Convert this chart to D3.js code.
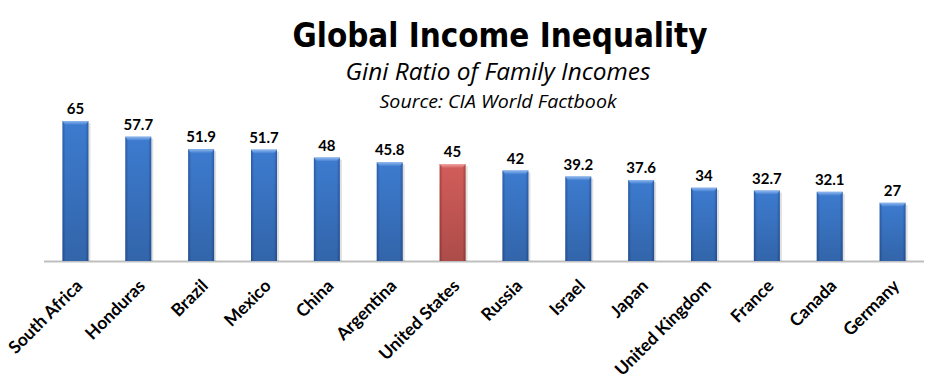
<!DOCTYPE html>
<html>
<head>
<meta charset="utf-8">
<script src="https://cdn.jsdelivr.net/npm/d3@7"></script>
<style>
  body { margin: 0; background: #fff; }
  svg { display: block; }
</style>
</head>
<body>
<svg id="svg" width="938" height="386"></svg>
<script>
// 数据
const countries = ["South Africa", "Honduras", "Brazil", "Mexico", "China", "Argentina",
  "United States", "Russia", "Israel", "Japan", "United Kingdom", "France", "Canada", "Germany"];
const gini = [65, 57.7, 51.9, 51.7, 48, 45.8, 45, 42, 39.2, 37.6, 34, 32.7, 32.1, 27];
const highlight = "United States";

const left = 44, right = 924, baseY = 261;

const svg = d3.select("#svg");
const defs = svg.append("defs");

// 渐变：蓝色 / 红色，带斜面效果
function makeGrad(id, dark, mid, light) {
  const gh = defs.append("linearGradient").attr("id", id + "-h")
    .attr("x1", 0).attr("x2", 1).attr("y1", 0).attr("y2", 0);
  gh.append("stop").attr("offset", 0).attr("stop-color", dark);
  gh.append("stop").attr("offset", 0.12).attr("stop-color", mid);
  gh.append("stop").attr("offset", 0.88).attr("stop-color", mid);
  gh.append("stop").attr("offset", 1).attr("stop-color", dark);
  const gv = defs.append("linearGradient").attr("id", id + "-v")
    .attr("x1", 0).attr("x2", 0).attr("y1", 0).attr("y2", 1);
  gv.append("stop").attr("offset", 0).attr("stop-color", "#000").attr("stop-opacity", 0);
  gv.append("stop").attr("offset", 1).attr("stop-color", "#000").attr("stop-opacity", 0.18);
  const gt = defs.append("linearGradient").attr("id", id + "-t")
    .attr("x1", 0).attr("x2", 0).attr("y1", 0).attr("y2", 1);
  gt.append("stop").attr("offset", 0).attr("stop-color", light);
  gt.append("stop").attr("offset", 1).attr("stop-color", mid);
}
makeGrad("blue", "#2a5ca8", "#3d7bcf", "#8fb8ee");
makeGrad("red", "#a8403d", "#d25d5a", "#f0a5a2");

const x = d3.scaleBand().domain(countries).range([left, right]).paddingInner(0.586).paddingOuter(0.293);
const y = d3.scaleLinear().domain([0, 70]).range([baseY, baseY - 70 * 2.154]);

// 基线
svg.append("line")
  .attr("x1", left).attr("x2", right)
  .attr("y1", baseY + 0.5).attr("y2", baseY + 0.5)
  .attr("stroke", "#bfbfbf").attr("stroke-width", 2);

const bars = svg.append("g");
countries.forEach((c, i) => {
  const v = gini[i];
  const id = c === highlight ? "red" : "blue";
  const bx = x(c), bw = x.bandwidth(), by = y(v), bh = baseY - y(v);
  // 阴影
  bars.append("rect")
    .attr("x", bx + 2).attr("y", by + 2).attr("width", bw).attr("height", bh - 2)
    .attr("fill", "#000").attr("opacity", 0.12);
  bars.append("rect")
    .attr("x", bx).attr("y", by).attr("width", bw).attr("height", bh)
    .attr("fill", `url(#${id}-h)`);
  bars.append("rect")
    .attr("x", bx).attr("y", by).attr("width", bw).attr("height", bh)
    .attr("fill", `url(#${id}-v)`);
  // 顶部斜面
  bars.append("path")
    .attr("d", `M${bx},${by} L${bx + bw},${by} L${bx + bw - 3},${by + 4} L${bx + 3},${by + 4} Z`)
    .attr("fill", `url(#${id}-t)`);
  // 数值
  svg.append("text")
    .attr("x", bx + bw / 2).attr("y", by - 7)
    .attr("text-anchor", "middle")
    .style("font-family", "Lato, 'Open Sans', sans-serif")
    .style("font-weight", "bold").style("font-size", "15px")
    .text(v);
});

// 类别标签
countries.forEach(c => {
  const cx = x(c) + x.bandwidth() / 2;
  svg.append("text")
    .attr("transform", `translate(${cx + 8},${baseY + 26}) rotate(-45)`)
    .attr("text-anchor", "end")
    .style("font-family", "Lato, 'Open Sans', sans-serif")
    .style("font-weight", "bold").style("font-size", "17.5px")
    .text(c);
});

// 标题
svg.append("text")
  .attr("x", 500).attr("y", 47)
  .attr("text-anchor", "middle")
  .attr("textLength", 415).attr("lengthAdjust", "spacingAndGlyphs")
  .style("font-family", "'DejaVu Sans', sans-serif")
  .style("font-weight", "bold").style("font-size", "33px")
  .text("Global Income Inequality");
svg.append("text")
  .attr("x", 498).attr("y", 80)
  .attr("text-anchor", "middle")
  .attr("textLength", 305).attr("lengthAdjust", "spacingAndGlyphs")
  .style("font-family", "'Open Sans', sans-serif")
  .style("font-style", "italic").style("font-size", "23px")
  .text("Gini Ratio of Family Incomes");
svg.append("text")
  .attr("x", 498).attr("y", 108)
  .attr("text-anchor", "middle")
  .attr("textLength", 237).attr("lengthAdjust", "spacingAndGlyphs")
  .style("font-family", "'Open Sans', sans-serif")
  .style("font-style", "italic").style("font-size", "18px")
  .text("Source: CIA World Factbook");
</script>
</body>
</html>
